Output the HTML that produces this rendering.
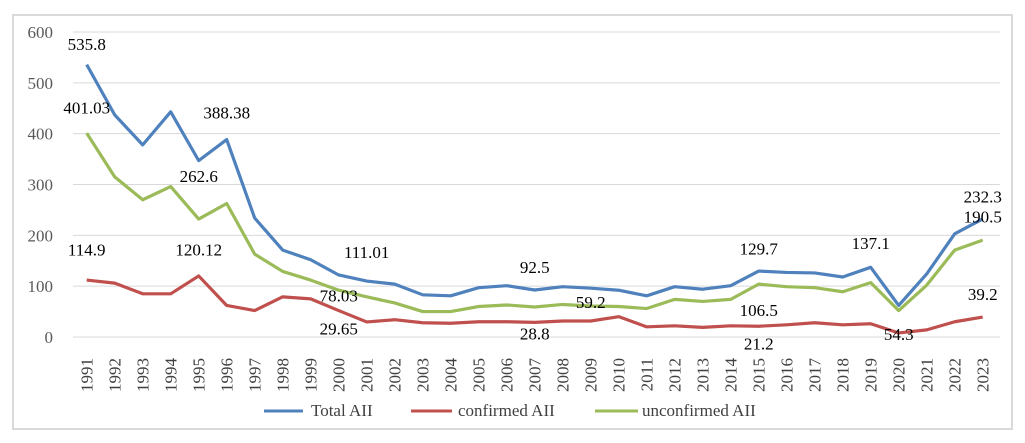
<!DOCTYPE html>
<html><head><meta charset="utf-8"><style>
html,body{margin:0;padding:0;background:#fff;}
svg{display:block;font-family:"Liberation Serif",serif;}
</style></head><body>
<svg id="c" width="1025" height="443">
<rect x="13" y="15" width="999" height="414" fill="#fff" stroke="#d9d9d9" stroke-width="2"/>
<g id="grid"></g><g id="ylab"></g><g id="xlab"></g><g id="lines"></g><g id="labels"></g>
<g>
<line x1="264" y1="411" x2="303" y2="411" stroke="#4f81bd" stroke-width="3"/>
<text x="311" y="416" font-size="17" fill="#404040">Total AII</text>
<line x1="411" y1="411" x2="452" y2="411" stroke="#c0504d" stroke-width="3"/>
<text x="458" y="416" font-size="17" fill="#404040">confirmed AII</text>
<line x1="595" y1="411" x2="638" y2="411" stroke="#9bbb59" stroke-width="3"/>
<text x="642" y="416" font-size="17" fill="#404040">unconfirmed AII</text>
</g>
</svg>
<script>
const years=[1991,1992,1993,1994,1995,1996,1997,1998,1999,2000,2001,2002,2003,2004,2005,2006,2007,2008,2009,2010,2011,2012,2013,2014,2015,2016,2017,2018,2019,2020,2021,2022,2023];
const totalAII=[535.8,437,378,443,347,388.38,234,171,152,122,110,104,83,81,97,101,92.5,99,96,92,81,99,94,101,129.7,127,126,118,137.1,62,124,203,232.3];
const confirmedAII=[112,106,85,85,120.12,62,52,79,75,52,29.65,34,28,27,30,30,28.8,31.5,31.5,40,20,22,19,22,21.2,24,28,24,26,8,14,30,39.2];
const unconfirmedAII=[401.03,315,270,296,232,262.6,163,129,112,92,79,67,50,50,60,63,59,64,61,60,56,74,70,74,104,99,97,89,107,52,102,171,190.5];
const yTicks=[0,100,200,300,400,500,600];
const annoText=["535.8","401.03","388.38","262.6","114.9","120.12","111.01","78.03","29.65","92.5","28.8","59.2","129.7","106.5","21.2","137.1","54.3","232.3","190.5","39.2"];
const annoYear=[1991,1991,1996,1995,1991,1995,2001,2000,2000,2007,2007,2009,2015,2015,2015,2019,2020,2023,2023,2023];
const annoVal=[565,440,430,305,160,160,155,70,5,126,-5,57,162,41,-25,173,-6,265,225,73];
const NS="http://www.w3.org/2000/svg";
const X=y=>86.7+(y-1991)*28; const Y=v=>337-v*0.5083;
function mk(t,p,a){const e=document.createElementNS(NS,t);for(const k in a)e.setAttribute(k,a[k]);p.appendChild(e);return e;}
const grid=document.getElementById('grid'),yl=document.getElementById('ylab');
yTicks.forEach(v=>{
 const l=mk('line',grid,{x1:73,x2:1000,y1:Y(v),y2:Y(v),stroke:'#d9d9d9','stroke-width':1});
 
 
 const t=mk('text',yl,{x:53,y:Y(v)+6,'text-anchor':'end','font-size':17,fill:'#595959'});t.textContent=v;
 
 
});
const xl=document.getElementById('xlab');
years.forEach(y=>{
 const t=mk('text',xl,{transform:`translate(${X(y)+6},358) rotate(-90)`,'text-anchor':'end','font-size':17,fill:'#404040'});t.textContent=y;
 
 
});
const lg=document.getElementById('lines');
[[unconfirmedAII,'#9bbb59','unconfirmed'],[confirmedAII,'#c0504d','confirmed'],[totalAII,'#4f81bd','total']].forEach(([d,c,n])=>{
 const p=mk('polyline',lg,{points:d.map((v,i)=>X(years[i])+','+Y(v)).join(' '),fill:'none',stroke:c,'stroke-width':3.2,'stroke-linejoin':'round'});
 
 
});
const lb=document.getElementById('labels');
annoText.forEach((s,i)=>{
 const t=mk('text',lb,{x:X(annoYear[i]),y:Y(annoVal[i]),'text-anchor':'middle','font-size':17,fill:'#000'});t.textContent=s;
 
 
});
</script>
</body></html>
